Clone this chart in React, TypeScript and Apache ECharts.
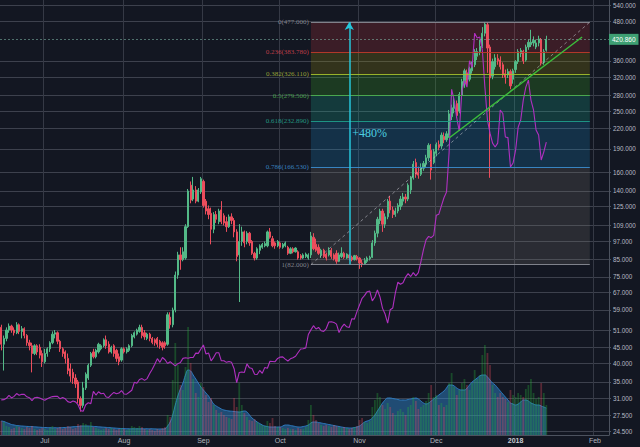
import React, { useEffect, useRef } from "react";
import * as echarts from "echarts";

// ---- categories ----
const startDate = "2017-06-14";
const dayCount = 238;
const monthNames = ["Jan", "Feb", "Mar", "Apr", "May", "Jun", "Jul", "Aug", "Sep", "Oct", "Nov", "Dec"];

// ---- XMR daily candles [open, close, low, high] ----
const xmrJun = [
  [52, 46, 44, 53], [46, 48, 38, 49], [48, 51, 47, 52], [51, 52.5, 50, 53.5], [52.5, 51, 50, 53],
  [51, 50, 49, 52], [50, 53, 49.5, 54], [53, 50.5, 49.5, 53.5], [50.5, 51.5, 48, 52.5], [51.5, 49, 48, 52],
  [49, 46.5, 45.5, 49.5], [46.5, 45.5, 44, 47.5], [45.5, 43, 37.5, 46.5], [43, 45.5, 42.5, 46], [45.5, 43.5, 42.5, 46],
  [45, 42.5, 41.5, 46], [43, 40.5, 39, 44],
];
const xmrJul = [
  [40.5, 43, 40, 44.5], [43, 44.5, 42, 45], [44.5, 46.5, 43.5, 47], [46.5, 49.5, 46, 50.5], [49.5, 50, 48, 51],
  [50, 47, 46, 50.5], [47, 44.5, 43.5, 47.5], [44.5, 43, 42, 45], [43.5, 41.5, 40, 44], [41.5, 38, 37, 43],
  [38.5, 36.5, 35, 40], [37.5, 36, 34.5, 38.5], [36, 34.5, 33.5, 37], [35, 31, 30, 35.5], [31, 29.5, 28.2, 31.5],
  [29.5, 33.5, 29, 35], [33.5, 37, 33, 37.5], [36, 39.5, 35.5, 40], [39.5, 43, 39, 43.5], [43.5, 42, 41.5, 44.5],
  [42, 44, 41.5, 44.5], [43.5, 46, 43, 46.5], [44.5, 45.5, 44, 46], [45.5, 47.5, 45, 48], [47.5, 45.5, 44.5, 49],
  [46, 43.5, 43, 47], [43.5, 45, 43, 45.5], [45.5, 43, 42, 46], [44, 41.5, 40.5, 44.5], [42, 40.5, 39.5, 43],
  [41, 44.5, 40.5, 45],
];
const xmrAug = [
  [44.5, 43.5, 43, 45], [43.5, 44.5, 43, 45], [44, 45.5, 43.5, 46], [45.5, 49, 45, 49.6], [48.5, 50, 48, 50.5],
  [49.5, 51, 49, 51.5], [50.5, 52, 50, 53], [52, 49, 48, 53], [50, 48.5, 47.5, 51], [48, 49.5, 47.4, 50],
  [49.5, 48, 47, 50], [48, 46.6, 46, 48.5], [47.5, 46.5, 45.5, 48], [48, 46, 45, 48.5], [47, 45.5, 44.5, 47.5],
  [46.5, 45, 44, 47], [46.5, 45.5, 44.5, 47], [46, 57, 45.5, 58], [56, 53, 51.5, 58], [53, 59, 52, 60],
  [59, 76, 58, 78], [76, 88, 74, 90], [88, 85, 79, 93], [85, 90, 84, 93], [86, 108, 85, 110],
  [108, 140, 107, 142], [146, 131, 128, 150], [132, 141, 130, 155], [141, 130, 128, 145], [130, 141, 129, 143],
  [139, 153, 137, 155],
];
const xmrSep = [
  [150, 126, 124, 152], [130, 121, 118, 132], [123, 118, 114, 126], [119, 106, 95, 124], [106, 118, 103, 120],
  [118, 114, 111, 121], [112, 121, 110, 123], [122, 112, 110, 130], [117, 111, 109, 119], [112, 108, 104, 116],
  [108, 116, 107, 118], [116, 113, 110, 119], [113, 104, 100, 115], [104, 87, 84, 106], [88, 97, 62.5, 110],
  [97, 104, 94, 108], [104, 96, 93, 105], [97, 103, 95, 104.5], [103, 96, 94, 104], [97, 89, 88, 98],
  [89, 86, 84.5, 90], [86, 92, 85, 93], [91, 94, 88.5, 95], [93, 95, 92, 96], [94, 95.5, 93, 97],
  [94, 104, 93, 105], [104, 100, 99, 107], [99, 94, 93, 101], [96, 94, 92, 97], [94, 97, 93, 98],
];
const xmrOct = [
  [96, 93, 92, 97], [93, 95, 92, 96], [94, 96, 93, 97], [93, 89, 88, 94], [89, 92, 88.5, 93],
  [92, 90, 89, 93], [90, 92.5, 89.5, 93], [90, 86, 85, 91], [87.5, 86, 85, 88.5], [86, 88, 85.5, 89],
  [87, 88.5, 86, 89.5], [86, 88, 85, 89], [88, 101, 86, 104], [100, 92, 91, 103], [95, 91, 90, 99],
  [93, 89, 88, 95], [88, 91, 86, 92], [91, 87, 86, 92], [88.5, 86, 84.5, 89.5], [88, 91, 87, 93],
  [91, 87, 85.5, 92.5], [88, 85.5, 84.5, 89], [89, 84, 82.5, 91], [84, 88, 83.5, 89.5], [87, 89, 86, 93],
  [89, 86.5, 85.5, 90], [86, 88.5, 85.5, 89], [88, 86, 84.5, 88.5], [86.5, 85, 84, 87.5], [85, 87.5, 84.5, 88],
  [87, 85.5, 84.5, 88],
];
const xmrNov = [
  [86, 83, 79.5, 86.5], [83, 82.5, 80.5, 85], [82.5, 84.5, 82, 86], [84, 86, 83, 87], [85.5, 86.5, 84.5, 87.5],
  [86.5, 96, 86, 98], [96, 103, 94, 105], [103, 114, 100, 116], [113, 121, 110, 123], [121, 110, 104, 123],
  [110, 116, 107, 119], [116, 130, 114, 132], [130, 122, 119, 135], [122, 118, 115, 125], [118, 121, 116, 124],
  [121, 126, 119, 128], [125, 132, 122, 135], [130, 134, 126, 138], [134, 132, 128, 137], [132, 146, 130, 148],
  [141, 154, 137, 156], [154, 170, 152, 174], [172, 158, 154, 177], [160, 157, 153, 167], [158, 166, 156, 171],
  [165, 171, 162, 174], [170, 178, 166, 182], [178, 195, 174, 198], [188, 163, 152, 197], [172, 186, 170, 190],
];
const xmrDec = [
  [184, 196, 180, 199], [196, 192, 188, 202], [194, 210, 190, 214], [208, 203, 198, 214], [203, 212, 200, 216],
  [210, 245, 206, 252], [240, 256, 234, 262], [255, 268, 246, 275], [264, 242, 238, 270], [250, 282, 246, 287],
  [280, 310, 274, 316], [305, 335, 296, 340], [330, 312, 300, 338], [315, 340, 310, 345], [335, 352, 328, 358],
  [350, 385, 344, 392], [372, 385, 362, 395], [385, 400, 375, 420], [400, 440, 395, 460], [440, 470, 430, 477],
  [468, 395, 330, 477], [398, 318, 154, 405], [322, 358, 315, 366], [345, 368, 338, 378], [366, 360, 350, 378],
  [362, 345, 338, 372], [350, 325, 318, 356], [328, 320, 305, 338], [325, 333, 318, 340], [333, 300, 293, 338],
  [315, 335, 305, 340],
];
const xmrJan = [
  [338, 358, 330, 362], [358, 385, 352, 392], [380, 388, 370, 395], [386, 360, 352, 390], [362, 398, 358, 405],
  [398, 412, 390, 420], [405, 412, 398, 451], [410, 418, 400, 430], [398, 410, 392, 420], [410, 422, 400, 432],
  [420, 354, 348, 425], [356, 385, 350, 392], [389, 420.86, 385, 432],
];

// ---- XMR volume (thousands) ----
const volJun = [140, 130, 90, 80, 60, 70, 90, 80, 70, 60, 80, 70, 90, 60, 50, 60, 70];
const volJul = [60, 50, 70, 90, 60, 70, 80, 60, 70, 90, 80, 60, 70, 110, 100, 120, 110, 90, 130, 80, 70, 60, 50, 60, 70, 60, 70, 60, 50, 60, 70];
const volAug = [60, 50, 60, 90, 80, 70, 90, 80, 60, 50, 60, 50, 40, 60, 50, 70, 80, 200, 180, 550, 920, 700, 500, 450, 680, 1080, 720, 560, 420, 380, 520];
const volSep = [480, 400, 330, 370, 300, 250, 220, 230, 200, 180, 170, 160, 370, 280, 520, 300, 220, 180, 150, 140, 160, 130, 110, 100, 90, 140, 120, 170, 90, 80];
const volOct = [80, 70, 60, 70, 60, 60, 50, 70, 60, 60, 80, 150, 300, 200, 150, 120, 100, 90, 100, 90, 80, 100, 90, 80, 70, 80, 70, 60, 70, 80, 90];
const volNov = [150, 170, 130, 120, 140, 280, 350, 420, 380, 300, 260, 320, 280, 220, 200, 240, 260, 230, 200, 280, 300, 380, 340, 260, 280, 300, 340, 420, 500, 380];
const volDec = [400, 300, 320, 280, 300, 520, 620, 480, 400, 450, 520, 560, 500, 450, 520, 650, 560, 600, 800, 900, 820, 700, 500, 420, 380, 420, 380, 360, 330, 450, 400];
const volJan = [380, 420, 400, 380, 460, 500, 560, 420, 360, 380, 520, 420, 300];

// ---- volume moving average ----
const maJun = [140, 135, 125, 115, 105, 100, 95, 92, 90, 88, 86, 85, 84, 82, 80, 78, 76];
const maJul = [75, 74, 73, 72, 72, 72, 73, 74, 75, 78, 80, 82, 84, 86, 88, 90, 90, 90, 88, 86, 84, 82, 80, 78, 76, 74, 72, 70, 68, 66, 65];
const maAug = [64, 63, 62, 62, 62, 62, 62, 62, 62, 62, 62, 62, 61, 60, 60, 60, 62, 90, 130, 200, 300, 390, 460, 520, 600, 650, 640, 600, 560, 520, 480];
const maSep = [450, 420, 390, 350, 310, 290, 275, 260, 250, 245, 240, 238, 235, 232, 230, 235, 240, 230, 200, 170, 150, 130, 115, 100, 90, 85, 80, 80, 80, 80];
const maOct = [80, 90, 100, 100, 95, 90, 85, 80, 80, 85, 90, 100, 120, 130, 130, 125, 120, 115, 110, 105, 100, 95, 90, 85, 80, 75, 72, 70, 70, 75, 80];
const maNov = [90, 110, 130, 140, 150, 170, 200, 240, 280, 320, 350, 370, 370, 365, 360, 355, 350, 350, 350, 355, 360, 365, 370, 360, 340, 320, 310, 320, 340, 360];
const maDec = [380, 400, 420, 440, 470, 500, 500, 490, 470, 455, 450, 450, 470, 500, 530, 550, 570, 590, 600, 600, 580, 550, 520, 500, 470, 440, 410, 380, 350, 320, 310];
const maJan = [300, 310, 330, 350, 350, 340, 320, 310, 300, 300, 290, 280, 270];

// ---- BTC comparison (close) ----
const btcJun = [2450, 2460, 2520, 2660, 2540, 2610, 2740, 2660, 2710, 2700, 2590, 2550, 2420, 2550, 2570, 2540, 2480];
const btcJul = [2430, 2500, 2560, 2600, 2610, 2610, 2500, 2560, 2500, 2370, 2330, 2400, 2360, 2230, 1960, 1930, 2230, 2320, 2280, 2840, 2670, 2820, 2730, 2750, 2580, 2560, 2690, 2790, 2730, 2760, 2875];
const btcAug = [2720, 2710, 2800, 2890, 3250, 3210, 3380, 3420, 3340, 3420, 3650, 3850, 4070, 4330, 4160, 4380, 4280, 4110, 4190, 4090, 4000, 4100, 4150, 4340, 4370, 4350, 4380, 4380, 4580, 4570, 4770];
const btcSep = [4950, 4540, 4590, 4230, 4390, 4600, 4600, 4230, 4230, 4160, 4200, 4160, 3870, 3240, 3700, 3720, 3700, 4090, 3910, 3880, 3620, 3610, 3790, 3660, 3930, 3890, 4210, 4200, 4190, 4340];
const btcOct = [4400, 4410, 4310, 4220, 4320, 4370, 4440, 4610, 4770, 4780, 4820, 5430, 5640, 5830, 5680, 5750, 5600, 5570, 5700, 6000, 6010, 5980, 5900, 5520, 5750, 5900, 5780, 5750, 6150, 6130, 6470];
const btcNov = [6770, 7080, 7210, 7380, 7410, 6960, 7140, 7460, 7140, 6620, 6360, 5950, 6560, 6640, 7320, 7810, 7720, 7790, 8040, 8200, 8070, 8250, 8100, 8250, 8750, 9300, 9740, 9900, 9840, 9950];
const btcDec = [10860, 10910, 11290, 11660, 11920, 13700, 16600, 16100, 15300, 14700, 16500, 17000, 16700, 17900, 17600, 19160, 18940, 18980, 18390, 16700, 15200, 14600, 14150, 13970, 14150, 15660, 15500, 14430, 14400, 13060, 13240];
const btcJan = [13830, 14880, 15200, 16110, 16700, 17020, 16110, 15660, 14745, 14520, 13380, 13740, 14198.62];

// ---- price scale ticks ----
const yTicks = [540, 480, 360, 320, 280, 250, 220, 190, 160, 140, 125, 109, 97, 85, 75, 67, 59, 51, 45, 40, 35, 31, 27.5, 24.5];

// ---- drawings ----
const fibHigh = 477;
const fibLow = 82;
const fibLevels = [0, 0.236, 0.382, 0.5, 0.618, 0.786, 1];
const fibStart = "2017-10-13";
const fibEnd = "2018-01-30";
const fibLineColors = ["#8a8d96", "#c0392b", "#a6c02c", "#4caf50", "#1e9e8a", "#3a8ed0", "#8a8d96"];
const fibLabelColors = ["#8f929b", "#d0424d", "#aab43a", "#4caf50", "#26a68e", "#3d8fd1", "#8f929b"];
const fibZoneColors = [
  "rgba(219,53,59,0.2)",
  "rgba(179,163,4,0.2)",
  "rgba(64,198,34,0.2)",
  "rgba(24,198,164,0.2)",
  "rgba(24,153,224,0.2)",
  "rgba(134,128,119,0.2)",
];
const moveDate = "2017-10-28";
const moveLabel = "+480%";
const moveLabelPrice = 213;
const trendStart = { date: "2017-12-06", price: 205.6 };
const trendEnd = { date: "2018-01-27", price: 428 };
const lastPrice = 420.86;
const lastBtc = 14198.62;

export default function App() {
  const ref = useRef<HTMLDivElement>(null);

  useEffect(() => {
    document.body.style.margin = "0";
    if (!ref.current) return;
    const chart = echarts.init(ref.current, undefined, { renderer: "svg" });

    const dates: string[] = [];
    const t0 = Date.parse(startDate + "T00:00:00Z");
    for (let i = 0; i < dayCount; i++) dates.push(new Date(t0 + i * 86400000).toISOString().slice(0, 10));

    const candles = [...xmrJun, ...xmrJul, ...xmrAug, ...xmrSep, ...xmrOct, ...xmrNov, ...xmrDec, ...xmrJan];
    const volumes = [...volJun, ...volJul, ...volAug, ...volSep, ...volOct, ...volNov, ...volDec, ...volJan];
    const volMa = [...maJun, ...maJul, ...maAug, ...maSep, ...maOct, ...maNov, ...maDec, ...maJan];
    const btc = [...btcJun, ...btcJul, ...btcAug, ...btcSep, ...btcOct, ...btcNov, ...btcDec, ...btcJan];

    const isMonthStart = (i: number) => !!dates[i] && dates[i].endsWith("-01");
    const fibPrices = fibLevels.map((l) => fibHigh - l * (fibHigh - fibLow));

    const volumeData = volumes.map((v, i) => ({
      value: v,
      itemStyle: {
        color: candles[i][1] >= candles[i][0] ? "rgba(40,180,60,0.32)" : "rgba(235,77,92,0.32)",
      },
    }));

    const fibZones = fibZoneColors.map((c, k) => [
      { coord: [fibStart, fibPrices[k]], itemStyle: { color: c } },
      { coord: [fibEnd, fibPrices[k + 1]] },
    ]);

    const fibLines = fibLevels.map((l, k) => [
      {
        coord: [fibStart, fibPrices[k]],
        symbol: "none",
        lineStyle: { color: fibLineColors[k], width: 1, type: "solid", opacity: 0.9 },
        label: {
          show: true,
          position: "start",
          distance: 2,
          formatter: `${l}(${fibPrices[k].toFixed(3)})`,
          color: fibLabelColors[k],
          fontSize: 7,
          fontFamily: "Liberation Serif",
        },
      },
      { coord: [fibEnd, fibPrices[k]], symbol: "none" },
    ]);

    const gridColor = "#353945";
    const hGridColor = "#3d414d";

    const option: any = {
      animation: false,
      backgroundColor: "#131722",
      grid: { left: 0, right: 31, top: 0, bottom: 12, containLabel: false },
      xAxis: {
        type: "category",
        data: dates,
        boundaryGap: true,
        axisLine: { show: true, lineStyle: { color: "#4c525e" } },
        axisTick: { show: false },
        axisLabel: {
          interval: (i: number) => isMonthStart(i),
          formatter: (v: string) => {
            const [y, m] = v.split("-");
            return m === "01" ? `{b|${y}}` : monthNames[Number(m) - 1];
          },
          color: "#b2b5be",
          fontSize: 7,
          margin: 2,
          fontFamily: "Liberation Sans",
          rich: { b: { fontWeight: "bold", fontSize: 7, color: "#c8cad0", fontFamily: "Liberation Sans" } },
        },
        splitLine: {
          show: true,
          interval: (i: number) => isMonthStart(i),
          lineStyle: { color: gridColor, width: 1 },
        },
      },
      yAxis: [
        {
          type: "log",
          logBase: 10,
          min: 23.8,
          max: 560,
          position: "right",
          axisLine: { show: true, lineStyle: { color: "#4c525e" } },
          axisTick: { show: true, customValues: yTicks, length: 2, lineStyle: { color: "#4c525e" } },
          axisLabel: {
            show: true,
            customValues: yTicks,
            margin: 4,
            color: "#b8bbc4",
            fontSize: 6.3,
            fontFamily: "Liberation Sans",
            formatter: (v: number) => Number(v).toFixed(3),
          },
          splitLine: { show: true, lineStyle: { color: hGridColor, width: 1 } },
        },
        { type: "value", min: 850, max: 20670, show: false, splitLine: { show: false } },
        { type: "value", min: 0, max: 4350, show: false, splitLine: { show: false } },
      ],
      series: [
        {
          name: "fibZones",
          type: "line",
          data: [],
          yAxisIndex: 0,
          silent: true,
          markArea: {
            z: 1,
            silent: true,
            data: fibZones,
          },
        },
        {
          name: "Volume MA",
          type: "line",
          yAxisIndex: 2,
          data: volMa,
          smooth: true,
          symbol: "none",
          silent: true,
          lineStyle: { color: "#2f7bbf", width: 1 },
          areaStyle: { color: "rgba(50,150,230,0.6)" },
          z: 1,
        },
        {
          name: "Volume",
          type: "bar",
          yAxisIndex: 2,
          data: volumeData,
          barWidth: "70%",
          silent: true,
          z: 2,
        },
        {
          name: "XMRUSD",
          type: "candlestick",
          yAxisIndex: 0,
          data: candles,
          barWidth: "68%",
          silent: true,
          itemStyle: {
            color: "#53b987",
            color0: "#eb4d5c",
            borderColor: "#53b987",
            borderColor0: "#eb4d5c",
            borderWidth: 1,
          },
          z: 3,
        },
        {
          name: "BTCUSD",
          type: "line",
          yAxisIndex: 1,
          data: btc,
          symbol: "none",
          silent: true,
          lineStyle: { color: "#b030c0", width: 1.1 },
          z: 4,
          markLine: {
            silent: true,
            symbol: ["none", "none"],
            lineStyle: { opacity: 0 },
            label: {
              show: true,
              position: "end",
              distance: 0,
              formatter: lastBtc.toFixed(2),
              color: "#ffffff",
              backgroundColor: "#e61ee6",
              padding: [2, 2, 2, 2],
              fontSize: 6.5,
              fontFamily: "Liberation Sans",
            },
            data: [{ yAxis: lastBtc }],
          },
        },
        {
          name: "drawings",
          type: "line",
          data: [],
          yAxisIndex: 0,
          silent: true,
          markLine: {
            z: 6,
            silent: true,
            symbol: ["none", "none"],
            label: { show: false },
            emphasis: { disabled: true },
            data: [
              ...fibLines,
              [
                {
                  coord: [fibStart, fibLow],
                  symbol: "none",
                  lineStyle: { color: "rgba(200,200,210,0.55)", width: 1, type: [3, 3] },
                },
                { coord: [fibEnd, fibHigh], symbol: "none" },
              ],
              [
                {
                  coord: [moveDate, fibLow],
                  symbol: "none",
                  lineStyle: { color: "#26c6da", width: 1.5, type: "solid" },
                },
                { coord: [moveDate, fibHigh], symbol: "arrow", symbolSize: [7, 8] },
              ],
              [
                {
                  coord: [trendStart.date, trendStart.price],
                  symbol: "none",
                  lineStyle: { color: "#3cbf3c", width: 1.4, type: "solid" },
                },
                { coord: [trendEnd.date, trendEnd.price], symbol: "none" },
              ],
              {
                yAxis: lastPrice,
                lineStyle: { color: "rgba(130,185,170,0.55)", width: 1, type: [2, 2] },
                label: {
                  show: true,
                  position: "end",
                  distance: 0,
                  formatter: lastPrice.toFixed(3),
                  color: "#ffffff",
                  backgroundColor: "#3e9f73",
                  padding: [2, 3, 2, 3],
                  fontSize: 6.5,
                  fontFamily: "Liberation Sans",
                },
              },
            ],
          },
          markPoint: {
            z: 6,
            silent: true,
            data: [
              {
                coord: [moveDate, moveLabelPrice],
                symbol: "circle",
                symbolSize: 0,
                label: {
                  show: true,
                  position: "right",
                  distance: 3,
                  formatter: moveLabel,
                  color: "#4dd0e1",
                  fontSize: 12,
                  fontFamily: "Liberation Serif",
                },
              },
            ],
          },
        },
      ],
    };

    chart.setOption(option);
    return () => chart.dispose();
  }, []);

  return <div ref={ref} style={{ width: 640, height: 447 }} />;
}
